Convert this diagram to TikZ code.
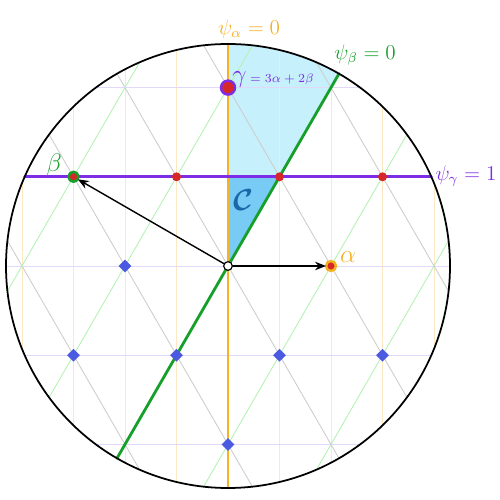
\documentclass[tikz,border=0pt]{standalone}
\usepackage{amsmath}
\usetikzlibrary{shapes.geometric, arrows.meta}
\definecolor{psiorange}{RGB}{245,178,35}
\definecolor{psigreen}{RGB}{22,160,42}
\definecolor{psipurple}{RGB}{125,45,230}
\definecolor{faintorange}{RGB}{252,232,195}
\definecolor{faintgreen}{RGB}{180,242,180}
\definecolor{faintpurple}{RGB}{226,216,250}
\definecolor{faintgray}{RGB}{205,205,205}
\definecolor{dotred}{RGB}{214,40,40}
\definecolor{wtblue}{RGB}{75,90,225}
\definecolor{chamberlight}{RGB}{198,240,252}
\definecolor{chamberdark}{RGB}{120,203,245}
\definecolor{clabel}{RGB}{25,105,170}
\tikzset{
  wall/.style={line width=1.6pt},
  faint/.style={line width=0.5pt},
  ptred/.style={circle, fill=dotred, inner sep=0pt, minimum size=0.18cm},
  rootpt/.style={circle, fill=dotred, draw=#1, line width=1.4pt, inner sep=0pt, minimum size=0.2cm, outer sep=0pt},
  wtpt/.style={diamond, fill=wtblue, inner sep=0pt, minimum size=0.26cm},
}
\begin{document}
\begin{tikzpicture}[font=\large, line join=round, line cap=round, >={Stealth[length=2.2mm, width=1.7mm]}]
	\def\r{4.44}
	\def\s{1.03}
	\def\l{1.784}
	\useasboundingbox (-4.56,-4.68) rectangle (5.44,5.32);
	% chamber
	\fill[chamberlight] (0,0) -- (60:\r) arc (60:90:\r) -- cycle;
	\fill[chamberdark] (0,0) -- (0,\l) -- (\s,\l) -- cycle;
	% walls psi = n
	\begin{scope}
		\clip (0,0) circle (\r);
		\foreach \n in {-4,...,4}
			\draw[faint, faintorange] (\n*\s,-\r) -- (\n*\s,\r);
		\foreach \n in {-2,...,2} {
			\draw[faint, faintgray, shift={(30:{\n*\l})}] (120:6) -- (-60:6);
			\draw[faint, faintgreen, shift={(150:{\n*\l})}] (240:6) -- (60:6);
			\draw[faint, faintpurple] (-\r,\n*\l) -- (\r,\n*\l);
		}
	\end{scope}
	\coordinate (gl) at ({-sqrt(\r*\r-\l*\l)},\l);
	\coordinate (gr) at ({sqrt(\r*\r-\l*\l)},\l);
	\draw[wall, psiorange] (0,-\r) -- (0,\r);
	\draw[wall, psigreen] (240:\r) -- (60:\r);
	\draw[wall, psipurple] (gl) -- (gr);
	\draw[line width=1pt] (0,0) circle (\r);
	% weights
	\foreach \p [count=\i] in {(-2*\s,0),(-3*\s,-\l),(-\s,-\l),(\s,-\l),(3*\s,-\l),(0,-2*\l)}
		\node[wtpt] (w\i) at \p {};
	\foreach \p [count=\i] in {(-\s,\l),(\s,\l),(3*\s,\l)}
		\node[ptred] (d\i) at \p {};
	% roots
	\node[circle, draw, fill=white, inner sep=0pt, minimum size=0.17cm, line width=0.6pt] (O) at (0,0) {};
	\node[rootpt=psiorange] (A) at (2*\s,0) {};
	\node[rootpt=psigreen] (B) at (150:2*\l) {};
	\node[rootpt=psipurple, minimum size=0.28cm] (G) at (0,2*\l) {};
	\draw[->, line width=0.8pt] (O) -- (A);
	\draw[->, line width=0.8pt] (O) -- (B);
	\node[circle, draw, fill=white, inner sep=0pt, minimum size=0.17cm, line width=0.6pt] at (O) {};
	% labels
	\node[text=psiorange] (la) at (0.42,4.74) {$\psi_\alpha = 0$};
	\node[text=psigreen] (lb) at (2.74,4.22) {$\psi_\beta = 0$};
	\node[text=psipurple] (lg) at (4.76,1.8) {$\psi_\gamma = 1$};
	\node[text=psigreen, font=\Large] (nb) at (-3.48,2.02) {$\beta$};
	\node[text=psiorange, font=\Large] (na) at (2.4,0.18) {$\alpha$};
	\node[text=psipurple, anchor=west, inner sep=0pt] (ng) at (0.08,3.72) {{\Large$\gamma$}\,{\scriptsize$= 3\alpha + 2\beta$}};
	\node[text=clabel, font=\LARGE] (nc) at (0.32,1.32) {$\boldsymbol{\mathcal{C}}$};
\end{tikzpicture}
\end{document}
